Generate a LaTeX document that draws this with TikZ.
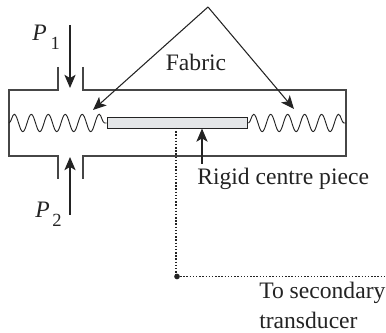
\documentclass[tikz,border=0pt]{standalone}
\usepackage{fontspec}
\setmainfont{Liberation Serif}
\usepackage{xcolor}
\usetikzlibrary{arrows.meta, decorations.pathmorphing}
\definecolor{WallGray}{RGB}{70,70,70}
\definecolor{InkDark}{RGB}{35,35,35}
\definecolor{PlateGray}{RGB}{228,230,232}
\tikzset{
  wall/.style={draw=WallGray, line width=0.9pt},
  plate/.style={rectangle, draw=InkDark, fill=PlateGray, line width=0.8pt,
    minimum width=3.73cm, minimum height=0.27cm, inner sep=0pt},
  spring/.style={draw=InkDark, line width=0.7pt, decorate,
    decoration={snake, segment length=0.45cm, amplitude=0.23cm}},
  arr/.style={-{Stealth[length=10pt, width=8.5pt, inset=2.5pt]}, draw=InkDark, line width=0.8pt},
  link/.style={draw=InkDark, line width=1pt, dash pattern=on 1.1pt off 1.3pt},
  lbl/.style={font=\fontsize{17.8}{20}\selectfont, text=InkDark, inner sep=0pt},
  pt/.style={circle, fill=InkDark, minimum size=0.15cm, inner sep=0pt}
}
\newcommand{\subnum}[1]{\raisebox{-7pt}{\fontsize{14}{16}\selectfont #1}}
\begin{document}
\begin{tikzpicture}[x=0.0265cm, y=-0.0265cm]
  \useasboundingbox (0,0) rectangle (386,333);

  % Housing
  \draw[wall] (58,67) -- (58,90) -- (9,90) -- (9,156) -- (58,156) -- (58,179);
  \draw[wall] (83,67) -- (83,90) -- (346,90) -- (346,156) -- (83,156) -- (83,179);

  % Centre piece and fabric
  \node[plate] (pc) at (177.5,123) {};
  \coordinate (lw) at (9,123);
  \coordinate (rw) at (346,123);
  \draw[spring] (lw) -- (pc.west);
  \draw[spring] (pc.east) -- (rw);

  % Pressure ports
  \coordinate (p1a) at (70,25);
  \coordinate (p1b) at (70,88);
  \coordinate (p2a) at (70,215);
  \coordinate (p2b) at (70,157);
  \draw[arr] (p1a) -- (p1b);
  \draw[arr] (p2a) -- (p2b);
  \node[lbl, anchor=west] (p1) at (32,37) {\textit{P}\kern3pt\subnum{1}};
  \node[lbl, anchor=west] (p2) at (35,214) {\textit{P}\kern2pt\subnum{2}};

  % Labels
  \coordinate (apex) at (208,7);
  \coordinate (fl) at (93,110);
  \coordinate (fr) at (294,109);
  \draw[arr] (apex) -- (fl);
  \draw[arr] (apex) -- (fr);
  \node[lbl] (fab) at (196,62) {Fabric};
  \node[lbl, anchor=west] (rcp) at (197,179) {Rigid centre piece};
  \draw[arr] (202,164) -- (202,128.5);

  % Output link
  \node[pt] (jn) at (177,276.5) {};
  \coordinate (lk) at (176,128);
  \coordinate (ex) at (386,276.5);
  \draw[link] (lk) -- (lk |- jn);
  \draw[link] (jn) -- (ex);
  \node[lbl, anchor=west] (sec) at (259,293) {To secondary};
  \node[lbl, anchor=west] (trd) at (259,320) {transducer};
\end{tikzpicture}
\end{document}
